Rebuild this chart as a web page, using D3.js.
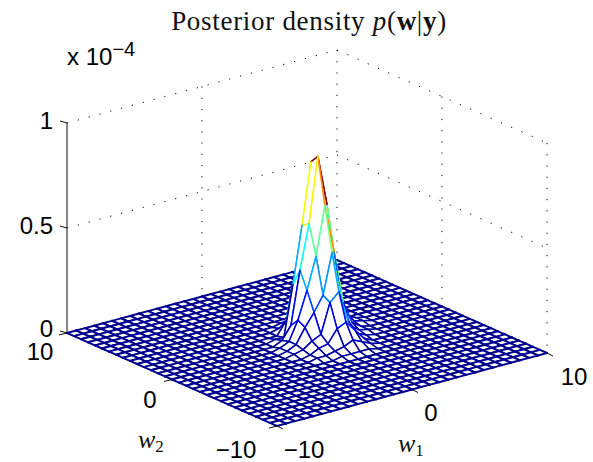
<!DOCTYPE html>
<html><head><meta charset="utf-8">
<style>html,body{margin:0;padding:0;background:#fff}svg{display:block}</style>
<script src="https://cdn.jsdelivr.net/npm/d3@7"></script></head>
<body><svg id="c" width="593" height="462"></svg>
<script>
const w1Grid=[-10,-9.33,-8.67,-8,-7.33,-6.67,-6,-5.33,-4.67,-4,-3.33,-2.67,-2,-1.33,-0.67,0,0.67,1.33,2,2.67,3.33,4,4.67,5.33,6,6.67,7.33,8,8.67,9.33,10];
const w2Grid=w1Grid.slice();
const w1Ticks=[-10,0,10], w2Ticks=[-10,0,10], zTicks=[0,0.5,1];
const w1TickLabels=["\u221210","0","10"], w2TickLabels=["\u221210","0","10"], zTickLabels=["0","0.5","1"];
const zMax=0.85;
// density (in 1e-6) on the non-zero part of the grid; rows follow w1, columns follow w2
const peakFirstW1Index=12, peakFirstW2Index=10;
const peakRows=[
[0,0,0,1,1,1,0,0,0,0,0,0],
[0,1,1,2,3,3,2,1,0,0,0,0],
[0,1,3,5,10,12,8,1,0,0,0,0],
[1,2,4,7,16,25,33,25,6,1,0,0],
[1,3,10,21,23,40,54,52,20,3,1,0],
[1,5,12,25,42,63,85,81,45,15,1,0],
[1,3,7,10,19,40,61,62,40,20,8,1],
[0,1,2,3,5,15,30,35,25,12,4,1],
[0,0,0,1,2,4,8,12,10,3,1,0],
[0,0,0,0,1,1,2,3,2,1,0,0],
[0,0,0,0,0,0,1,1,0,0,0,0]];

const svg=d3.select("#c");
const sw1=d3.scaleLinear().domain([-10,10]).range([0,1]);
const sw2=d3.scaleLinear().domain([-10,10]).range([0,1]);
const sz=d3.scaleLinear().domain([0,1]).range([0,210]);
const front=[277,426], w1Vec=[270,-73], w2Vec=[-210,-93];
function P(a,b,z){const u=sw1(a),v=sw2(b);
  return [front[0]+u*w1Vec[0]+v*w2Vec[0], front[1]+u*w1Vec[1]+v*w2Vec[1]-sz(z)];}
const jet=d3.scaleLinear().domain([0,.125,.375,.625,.875,1].map(t=>t*zMax))
  .range(["#00008f","#0000ff","#00ffff","#ffff00","#ff0000","#800000"]).clamp(true);
function Z(i,j){const r=peakRows[i-peakFirstW1Index];if(!r)return 0;const v=r[j-peakFirstW2Index];return v===undefined?0:v/100;}
const dotted={fill:"none",stroke:"#000","stroke-width":1,"stroke-dasharray":"1.2 10"};
function line(p,q,attrs,g){const l=(g||svg).append("line").attr("x1",p[0]).attr("y1",p[1]).attr("x2",q[0]).attr("y2",q[1]);
  Object.entries(attrs).forEach(([k,v])=>l.attr(k,v));return l;}
// back walls
const zd=sz.domain()[1];
const grid=svg.append("g");
zTicks.forEach(z=>{ if(z>0){line(P(-10,10,z),P(10,10,z),dotted,grid);line(P(10,10,z),P(10,-10,z),dotted,grid);} });
w1Ticks.forEach(a=>{ if(a>-10) line(P(a,10,zd),P(a,10,0),dotted,grid);});
w2Ticks.forEach(b=>{ if(b<10) line(P(10,b,zd),P(10,b,0),dotted,grid);});
// z axis
const axis={stroke:"#111","stroke-width":1};
line(P(-10,10,0),P(-10,10,zd),axis);
zTicks.forEach((z,k)=>{const p=P(-10,10,z);
  line(p,[p[0]-7,p[1]-2],axis);
  svg.append("text").attr("x",p[0]-14).attr("y",p[1]+(z===0?4:6)).attr("text-anchor","end").text(zTickLabels[k]).attr("class","t");});
// mesh, back to front
const mesh=svg.append("g").attr("stroke-linecap","round");
const n=w1Grid.length;
for(let s=2*(n-2);s>=0;s--){
  for(let i=Math.min(s,n-2);i>=0&&s-i<=n-2;i--){
    const j=s-i;
    const a=P(w1Grid[i],w2Grid[j],Z(i,j)),b=P(w1Grid[i+1],w2Grid[j],Z(i+1,j)),
          c=P(w1Grid[i+1],w2Grid[j+1],Z(i+1,j+1)),d=P(w1Grid[i],w2Grid[j+1],Z(i,j+1));
    mesh.append("path").attr("d","M"+[a,b,c,d].join("L")+"Z").attr("fill","#fff").attr("stroke","none");
    const flat=Math.max(Z(i,j),Z(i+1,j),Z(i,j+1),Z(i+1,j+1))===0;
    [[b,c,Z(i+1,j)],[d,c,Z(i,j+1)],[a,b,Z(i,j)],[a,d,Z(i,j)]].forEach(e=>{
      line(e[0],e[1],{stroke:jet(e[2]),"stroke-width":flat?1.95:1.5},mesh).attr("fill","none");});
  }
}
// floor axes ticks
w1Ticks.forEach((a,k)=>{const p=P(a,-10,0);line(p,[p[0]+6,p[1]+3],axis);});
w2Ticks.forEach((b,k)=>{const p=P(-10,b,0);line(p,[p[0]-8,p[1]+2],axis);});
const w1LabelPos=[[304,458],[431,421],[574,385]], w2LabelPos=[[236,458],[150,408],[40,360]];
w1Ticks.forEach((a,k)=>svg.append("text").attr("class","t").attr("x",w1LabelPos[k][0]).attr("y",w1LabelPos[k][1]).attr("text-anchor","middle").text(w1TickLabels[k]));
w2Ticks.forEach((b,k)=>svg.append("text").attr("class","t").attr("x",w2LabelPos[k][0]).attr("y",w2LabelPos[k][1]).attr("text-anchor","middle").text(w2TickLabels[k]));
svg.selectAll("text.t").attr("font-family","Liberation Sans").attr("font-size",24).attr("fill","#000");
// scale factor
const ex=svg.append("text").attr("x",67).attr("y",65).attr("font-family","Liberation Sans").attr("font-size",24);
ex.append("tspan").text("x 10");
ex.append("tspan").attr("dy",-9).attr("font-size",20).text("\u22124");
// title
const serif="Liberation Serif";
const ti=svg.append("text").attr("x",309).attr("y",30).attr("text-anchor","middle").attr("font-family",serif).attr("font-size",27).attr("letter-spacing",0.7).attr("fill","#111");
ti.append("tspan").text("Posterior density ");
ti.append("tspan").attr("font-style","italic").text("p");
ti.append("tspan").text("(");
ti.append("tspan").attr("font-weight","bold").text("w");
ti.append("tspan").text("|");
ti.append("tspan").attr("font-weight","bold").text("y");
ti.append("tspan").text(")");
// axis labels
function sub(x,y,base,idx){const t=svg.append("text").attr("x",x).attr("y",y).attr("font-family",serif).attr("font-size",26).attr("fill","#111");
  t.append("tspan").attr("font-style","italic").text(base);
  t.append("tspan").attr("dy",4).attr("font-size",17).text(idx);}
sub(138,448,"w","2");
sub(398,452,"w","1");
</script></body></html>
